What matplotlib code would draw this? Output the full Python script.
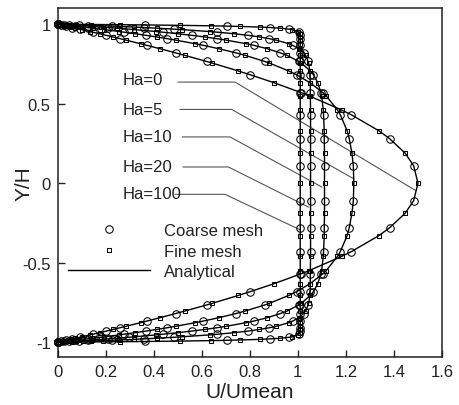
import numpy as np
import matplotlib
matplotlib.use("Agg")
import matplotlib.pyplot as plt
from matplotlib.lines import Line2D

plt.rcParams['font.family'] = ['Liberation Sans', 'DejaVu Sans']

# ---- data (upper half of the channel, profiles are symmetric in Y/H) ----
y_half = [0.0, 0.11, 0.19, 0.28, 0.33, 0.43, 0.46, 0.55, 0.57, 0.632, 0.682, 0.706,
          0.756, 0.766, 0.804, 0.82, 0.846, 0.867, 0.877, 0.90, 0.909, 0.92, 0.93,
          0.94, 0.95, 0.954, 0.966, 0.969, 0.975, 0.979, 0.982, 0.986, 0.988, 0.99,
          0.993, 0.9955, 0.997, 1.0]

u_ha0 = [1.500, 1.482, 1.446, 1.382, 1.337, 1.223, 1.183, 1.046, 1.013, 0.901, 0.802,
         0.752, 0.643, 0.620, 0.530, 0.491, 0.426, 0.372, 0.346, 0.285, 0.261, 0.230,
         0.203, 0.175, 0.146, 0.135, 0.100, 0.092, 0.074, 0.062, 0.054, 0.042, 0.036,
         0.030, 0.021, 0.013, 0.009, 0.0]
u_ha5 = [1.233, 1.231, 1.225, 1.214, 1.205, 1.177, 1.165, 1.118, 1.104, 1.051, 0.995,
         0.962, 0.881, 0.862, 0.781, 0.742, 0.671, 0.607, 0.574, 0.492, 0.457, 0.412,
         0.369, 0.324, 0.276, 0.257, 0.195, 0.179, 0.147, 0.125, 0.108, 0.085, 0.073,
         0.061, 0.043, 0.028, 0.019, 0.0]
u_ha10 = [1.111, 1.111, 1.111, 1.110, 1.110, 1.107, 1.106, 1.099, 1.096, 1.083, 1.065,
          1.052, 1.014, 1.004, 0.955, 0.927, 0.873, 0.817, 0.786, 0.702, 0.664, 0.612,
          0.559, 0.501, 0.437, 0.410, 0.320, 0.296, 0.246, 0.211, 0.183, 0.145, 0.126,
          0.106, 0.075, 0.049, 0.033, 0.0]
u_ha20 = [1.053, 1.053, 1.053, 1.053, 1.053, 1.053, 1.053, 1.052, 1.052, 1.052, 1.051,
          1.050, 1.045, 1.043, 1.032, 1.024, 1.004, 0.979, 0.963, 0.910, 0.882, 0.840,
          0.793, 0.736, 0.665, 0.633, 0.519, 0.486, 0.414, 0.361, 0.318, 0.257, 0.225,
          0.191, 0.138, 0.091, 0.061, 0.0]
u_ha100 = [1.010, 1.010, 1.010, 1.010, 1.010, 1.010, 1.010, 1.010, 1.010, 1.010, 1.010,
           1.010, 1.010, 1.010, 1.010, 1.010, 1.010, 1.010, 1.010, 1.010, 1.010, 1.010,
           1.009, 1.008, 1.003, 1.000, 0.976, 0.965, 0.927, 0.886, 0.843, 0.761, 0.706,
           0.639, 0.509, 0.366, 0.262, 0.0]

coarse_y = [0.11, 0.28, 0.43, 0.57, 0.682, 0.766, 0.82, 0.867, 0.909, 0.93, 0.95,
            0.969, 0.979, 0.988, 0.9955, 1.0]
fine_y = [0.0, 0.19, 0.33, 0.46, 0.55, 0.632, 0.706, 0.756, 0.804, 0.846, 0.877, 0.90,
          0.92, 0.94, 0.954, 0.966, 0.975, 0.982, 0.986, 0.99, 0.993, 0.997, 1.0]

ha_labels = ["Ha=0", "Ha=5", "Ha=10", "Ha=20", "Ha=100"]
profiles = [u_ha0, u_ha5, u_ha10, u_ha20, u_ha100]

x_ticks = [0, 0.2, 0.4, 0.6, 0.8, 1, 1.2, 1.4, 1.6]
x_ticklabels = ["0", "0.2", "0.4", "0.6", "0.8", "1", "1.2", "1.4", "1.6"]
y_ticks = [-1, -0.5, 0, 0.5, 1]
y_ticklabels = ["-1", "-0.5", "0", "0.5", "1"]

# annotation layout (text anchor, leader line start, knee, end) in data coords
label_pos = [(0.272, 0.650), (0.272, 0.466), (0.272, 0.292), (0.272, 0.105), (0.272, -0.066)]
leader_y = [0.636, 0.464, 0.291, 0.102, -0.070]
leader_x0 = [0.502, 0.510, 0.520, 0.523, 0.490]
leader_knee = [0.739, 0.725, 0.718, 0.711, 0.697]
leader_end = [(1.489, -0.045), (1.232, 0.028), (1.100, -0.024), (1.044, -0.150), (1.008, -0.292)]

# ---- build full symmetric arrays ----
yh = np.array(y_half)
y_full = np.concatenate([-yh[::-1], yh[1:]])
m_c = np.isin(yh, coarse_y)
m_f = np.isin(yh, fine_y)
mask_c = np.concatenate([m_c[::-1], m_c[1:]])
mask_f = np.concatenate([m_f[::-1], m_f[1:]])

fig = plt.figure(figsize=(4.59, 4.06), dpi=100)
ax = fig.add_axes([0.1253, 0.1175, 0.8377, 0.8615])

for u in profiles:
    uh = np.array(u)
    u_full = np.concatenate([uh[::-1], uh[1:]])
    ax.plot(u_full, y_full, color='black', lw=1.0, zorder=3, clip_on=False)
    ax.plot(u_full[mask_c], y_full[mask_c], ls='none', marker='o', ms=5.4,
            mfc='none', mec='black', mew=0.75, zorder=4, clip_on=False)
    ax.plot(u_full[mask_f], y_full[mask_f], ls='none', marker='s', ms=3.5,
            mfc='none', mec='black', mew=0.75, zorder=4, clip_on=False)

for lab, (tx, ty), ly, lx0, lk, (ex, ey) in zip(ha_labels, label_pos, leader_y,
                                                  leader_x0, leader_knee, leader_end):
    ax.text(tx, ty, lab, fontsize=12, ha='left', va='center', color='#222222')
    ax.plot([lx0, lk, ex], [ly, ly, ey], color='#555555', lw=0.8, zorder=2)

handles = [Line2D([], [], ls='none', marker='o', ms=5.4, mfc='none', mec='black', mew=0.75),
           Line2D([], [], ls='none', marker='s', ms=3.5, mfc='none', mec='black', mew=0.75),
           Line2D([], [], color='black', lw=1.0)]
leg = ax.legend(handles, ["Coarse mesh", "Fine mesh", "Analytical"], fontsize=12,
                frameon=False, loc='upper left', bbox_to_anchor=(0.043, -0.25),
                bbox_transform=ax.transData, borderpad=0, borderaxespad=0,
                handlelength=4.9, handletextpad=0.85, labelspacing=0.34)
for t in leg.get_texts():
    t.set_color('#222222')

ax.set_xlim(0, 1.6)
ax.set_ylim(-1.095, 1.105)
ax.set_xticks(x_ticks)
ax.set_xticklabels(x_ticklabels)
ax.set_yticks(y_ticks)
ax.set_yticklabels(y_ticklabels)
ax.tick_params(direction='in', length=5, width=1.0, labelsize=12, pad=5,
               top=False, right=False, colors='#222222')
for s in ax.spines.values():
    s.set_linewidth(1.1)
    s.set_color('#222222')
ax.set_xlabel("U/Umean", fontsize=15, labelpad=2, color='#222222')
ax.set_ylabel("Y/H", fontsize=15, color='#222222')
ax.yaxis.set_label_coords(-0.062, 0.5)

fig.savefig("out.png", dpi=100)
